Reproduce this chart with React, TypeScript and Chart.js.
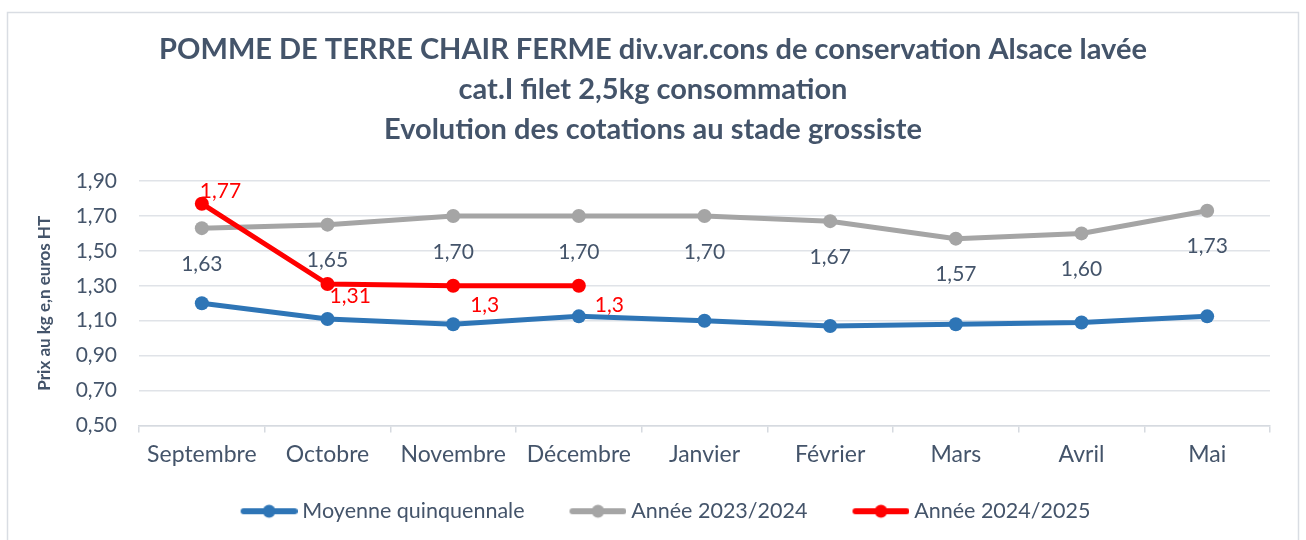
import React, { useEffect, useRef } from "react";
import { Chart, registerables } from "chart.js";

Chart.register(...registerables);

const titleLines = [
  "POMME DE TERRE CHAIR FERME div.var.cons de conservation Alsace lavée",
  "cat.I filet 2,5kg consommation",
  "Evolution des cotations au stade grossiste",
];
const categories = ["Septembre", "Octobre", "Novembre", "Décembre", "Janvier", "Février", "Mars", "Avril", "Mai"];
const moyenneQuinquennale = [1.2, 1.11, 1.08, 1.125, 1.1, 1.07, 1.08, 1.09, 1.125];
const annee2023 = [1.63, 1.65, 1.7, 1.7, 1.7, 1.67, 1.57, 1.6, 1.73];
const annee2024 = [1.77, 1.31, 1.3, 1.3, null, null, null, null, null];
const seriesLabels = ["Moyenne quinquennale", "Année 2023/2024", "Année 2024/2025"];
const yAxisTitle = "Prix au kg e,n euros HT";

const TEXT = "#44546A";
const FONT = "Lato";
const redLabelOffsets = [[-2, -12], [2, 12], [17, 19], [16, 19]];

function makeMarker(color: string) {
  const c = document.createElement("canvas");
  c.width = 94;
  c.height = 16;
  const x = c.getContext("2d")!;
  x.strokeStyle = color;
  x.lineWidth = 6;
  x.lineCap = "round";
  x.beginPath();
  x.moveTo(40, 8);
  x.lineTo(91, 8);
  x.stroke();
  x.fillStyle = color;
  x.beginPath();
  x.arc(65.5, 8, 6.5, 0, Math.PI * 2);
  x.fill();
  return c;
}

const decor = {
  id: "decor",
  beforeDraw(chart: any) {
    const ctx = chart.ctx;
    ctx.save();
    ctx.fillStyle = "#fff";
    ctx.fillRect(0, 0, chart.width, chart.height);
    ctx.strokeStyle = "#D9DDE3";
    ctx.lineWidth = 1.5;
    ctx.strokeRect(7.5, 12.5, 1291, 530);
    ctx.fillStyle = TEXT;
    ctx.font = `bold 29px ${FONT}`;
    ctx.textAlign = "center";
    ctx.textBaseline = "middle";
    titleLines.forEach((t, i) => ctx.fillText(t, chart.width / 2, 50 + i * 40));
    ctx.restore();
  },
  afterDatasetsDraw(chart: any) {
    const ctx = chart.ctx;
    ctx.save();
    ctx.font = `21px ${FONT}`;
    ctx.textBaseline = "middle";
    const gm = chart.getDatasetMeta(1);
    ctx.fillStyle = TEXT;
    ctx.textAlign = "center";
    gm.data.forEach((p: any, i: number) => {
      const v = annee2023[i];
      if (v == null) return;
      ctx.fillText(v.toFixed(2).replace(".", ","), p.x, p.y + 36);
    });
    const rm = chart.getDatasetMeta(2);
    ctx.fillStyle = "#FF0000";
    ctx.textAlign = "left";
    rm.data.forEach((p: any, i: number) => {
      const v = annee2024[i];
      if (v == null) return;
      const o = redLabelOffsets[i] || [0, 0];
      ctx.fillText(String(v).replace(".", ","), p.x + o[0], p.y + o[1]);
    });
    ctx.restore();
  },
};

export default function App() {
  const ref = useRef<HTMLCanvasElement>(null);
  useEffect(() => {
    const colors = ["#2E75B6", "#A5A5A5", "#FF0000"];
    const datas = [moyenneQuinquennale, annee2023, annee2024];
    const orders = [2, 1, 0];
    const chart = new Chart(ref.current!, {
      type: "line",
      data: {
        labels: categories,
        datasets: datas.map((d, i) => ({
          label: seriesLabels[i],
          data: d,
          borderColor: colors[i],
          backgroundColor: colors[i],
          borderWidth: 5,
          pointRadius: 7,
          pointHoverRadius: 7,
          pointBackgroundColor: colors[i],
          pointBorderWidth: 0,
          tension: 0,
          spanGaps: false,
          order: orders[i],
        })),
      },
      options: {
        responsive: false,
        animation: false,
        devicePixelRatio: 1,
        layout: { padding: { top: 181, left: 30, right: 36, bottom: 8 } },
        plugins: {
          title: { display: false },
          tooltip: { enabled: false },
          legend: {
            position: "bottom",
            labels: {
              usePointStyle: true,
              pointStyleWidth: 82,
              boxHeight: 16,
              padding: 14,
              color: TEXT,
              font: { family: FONT, size: 21.5 },
              generateLabels: (c: any) =>
                c.data.datasets.map((ds: any, i: number) => ({
                  text: ds.label,
                  pointStyle: makeMarker(colors[i]),
                  datasetIndex: i,
                  hidden: false,
                  fillStyle: colors[i],
                  strokeStyle: colors[i],
                  lineWidth: 0,
                  fontColor: TEXT,
                })),
            },
          },
        },
        scales: {
          x: {
            offset: true,
            afterFit: (s: any) => {
              s.height = 61;
            },
            grid: {
              offset: true,
              drawOnChartArea: false,
              drawTicks: true,
              tickLength: 7,
              color: "#D6DAE0",
              lineWidth: 1.5,
            },
            border: { display: true, color: "#D6DAE0", width: 1.5 },
            ticks: { color: TEXT, font: { family: FONT, size: 23 }, padding: 8, maxRotation: 0, autoSkip: false },
          },
          y: {
            min: 0.5,
            max: 1.9,
            afterFit: (s: any) => {
              s.width = 109;
            },
            grid: { drawTicks: false, color: "#E0E3E8", lineWidth: 1.5 },
            border: { display: false },
            ticks: {
              stepSize: 0.2,
              padding: 22,
              color: TEXT,
              font: { family: FONT, size: 21 },
              callback: (v: any) => Number(v).toFixed(2).replace(".", ","),
            },
            title: {
              display: true,
              text: yAxisTitle,
              color: TEXT,
              font: { family: FONT, size: 17, weight: "bold" },
              padding: { top: 4, bottom: 0 },
            },
          },
        },
      },
      plugins: [decor],
    } as any);
    return () => chart.destroy();
  }, []);
  return (
    <div style={{ position: "absolute", left: 0, top: 0, width: 1306, height: 540 }}>
      <canvas ref={ref} width={1306} height={540} style={{ display: "block", width: 1306, height: 540 }} />
    </div>
  );
}
